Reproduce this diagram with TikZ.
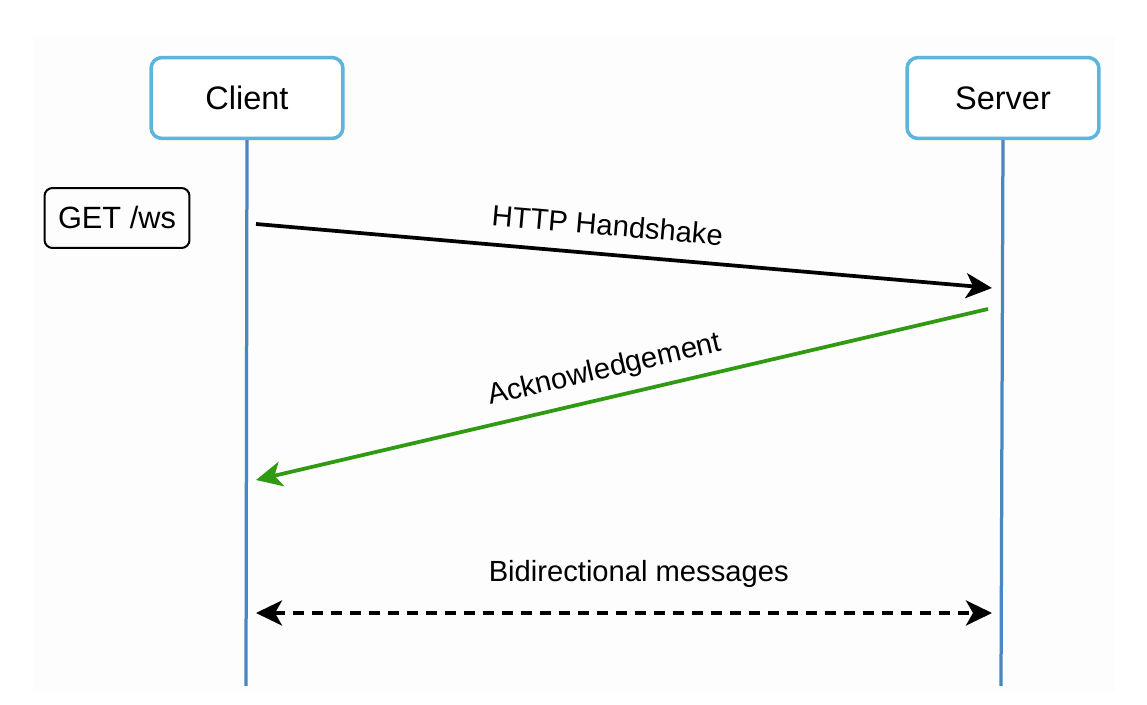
\documentclass[tikz,border=0pt]{standalone}
\usepackage{fontspec}
\setmainfont{Liberation Sans}
\usetikzlibrary{arrows.meta}

\definecolor{lifeblue}{HTML}{4A86C0}
\definecolor{boxblue}{HTML}{5BB5DD}
\definecolor{ackgreen}{HTML}{2F9A12}

\begin{document}
\begin{tikzpicture}[
  x=0.02cm, y=-0.02cm,
  >={Stealth[length=0.52cm, width=0.5cm, inset=0.14cm]},
  actor/.style={rectangle, rounded corners=0.22cm, draw=boxblue, line width=0.07cm, fill=white,
    minimum width=3.84cm, minimum height=1.62cm, font=\fontsize{18.5}{22}\selectfont},
  request/.style={rectangle, rounded corners=0.16cm, draw=black, line width=0.04cm,
    minimum width=2.9cm, minimum height=1.2cm, font=\fontsize{17.5}{21}\selectfont},
  lifeline/.style={draw=lifeblue, line width=0.065cm},
  msg/.style={line width=0.075cm, ->},
  msglabel/.style={font=\fontsize{16.6}{20}\selectfont, sloped}
]
\useasboundingbox (0,0) rectangle (1147,705);
\fill[gray!1.5] (33,35) rectangle (1115,692);

\node[actor] (client) at (247,98) {Client};
\node[actor] (server) at (1003,98) {Server};
\node[request] (get) at (117,218) {GET /ws};

\coordinate (clientend) at (246,686);
\coordinate (serverend) at (1001,686);
\draw[lifeline] (client.south) -- (clientend);
\draw[lifeline] (server.south) -- (serverend);

% message end points
\coordinate (hsfrom) at (256,224);
\coordinate (hsto) at (992,288);
\coordinate (ackfrom) at (988,309);
\coordinate (ackto) at (256,480);
\coordinate (bidleft) at (256,613);
\coordinate (bidright) at (992,613);

\draw[msg] (hsfrom) -- node[msglabel, pos=0.474, above=0.22cm] (hslabel) {HTTP Handshake} (hsto);
\draw[msg, draw=ackgreen, fill=ackgreen] (ackfrom) -- node[msglabel, pos=0.515, above=0.12cm] (acklabel) {Acknowledgement} (ackto);
\draw[msg, <->, dash pattern=on 0.22cm off 0.16cm]
  (bidleft) -- node[msglabel, pos=0.52, above=0.35cm] (bidlabel) {Bidirectional messages} (bidright);
\end{tikzpicture}
\end{document}
